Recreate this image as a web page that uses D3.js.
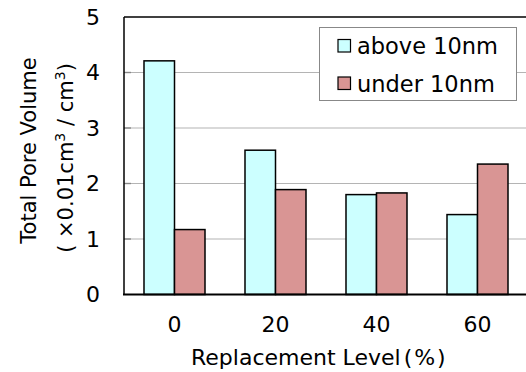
<!DOCTYPE html>
<html>
<head>
<meta charset="utf-8">
<script src="https://cdn.jsdelivr.net/npm/d3@7"></script>
<style>
  html, body { margin: 0; padding: 0; background: #fff; }
  svg { display: block; }
  text { font-family: "DejaVu Sans", "Noto Sans CJK JP", sans-serif; fill: #000; }
</style>
</head>
<body>
<div id="chart"></div>
<script>
// Replacement level categories (%)
const categories = ["0", "20", "40", "60"];
// Series names
const seriesNames = ["above 10nm", "under 10nm"];
// Total pore volume (×0.01 cm³/cm³)
const above10nm = [4.21, 2.60, 1.80, 1.44];
const under10nm = [1.17, 1.89, 1.83, 2.35];
const yTicks = [0, 1, 2, 3, 4, 5];
const colors = ["#ccffff", "#d99594"];

const W = 526, H = 372;
const plot = { left: 124, right: 528, top: 17, bottom: 294.5 };

const svg = d3.select("#chart").append("svg")
  .attr("width", W).attr("height", H);

const x0 = d3.scaleBand().domain(categories).range([plot.left, plot.right]).padding(0);
const x1 = d3.scaleBand().domain(seriesNames)
  .range([x0.bandwidth() * 0.198, x0.bandwidth() * 0.802]).padding(0);
const y = d3.scaleLinear().domain([0, 5]).range([plot.bottom, plot.top]);

const rows = categories.map((c, i) => ({ cat: c, values: [above10nm[i], under10nm[i]] }));

// gridlines
svg.append("g").selectAll("line").data(yTicks.filter(t => t > 0 && t < 5)).join("line")
  .attr("x1", plot.left).attr("x2", plot.right)
  .attr("y1", d => y(d)).attr("y2", d => y(d))
  .attr("stroke", "#b4b4b4").attr("stroke-width", 1.2);

// inner tick marks
svg.append("g").selectAll("line").data(yTicks.filter(t => t > 0 && t < 5)).join("line")
  .attr("x1", plot.left).attr("x2", plot.left + 7)
  .attr("y1", d => y(d)).attr("y2", d => y(d))
  .attr("stroke", "#888").attr("stroke-width", 1.4);

// bars
const groups = svg.append("g").selectAll("g").data(rows).join("g")
  .attr("transform", d => `translate(${x0(d.cat)},0)`);
groups.selectAll("rect").data(d => d.values.map((v, k) => ({ key: seriesNames[k], v, k }))).join("rect")
  .attr("x", d => x1(d.key))
  .attr("width", x1.bandwidth())
  .attr("y", d => y(d.v))
  .attr("height", d => y(0) - y(d.v))
  .attr("fill", d => colors[d.k])
  .attr("stroke", "#000").attr("stroke-width", 1.5);

// frame: top and left
svg.append("line").attr("x1", plot.left).attr("x2", plot.right)
  .attr("y1", plot.top).attr("y2", plot.top).attr("stroke", "#000").attr("stroke-width", 1.3);
svg.append("line").attr("x1", plot.left).attr("x2", plot.left)
  .attr("y1", plot.top).attr("y2", plot.bottom).attr("stroke", "#000").attr("stroke-width", 1.5);
// baseline
svg.append("line").attr("x1", plot.left - 1).attr("x2", plot.right)
  .attr("y1", y(0)).attr("y2", y(0)).attr("stroke", "#000").attr("stroke-width", 2.2);

// y tick labels
const yAxis = d3.axisLeft(y).tickValues(yTicks).tickFormat(d3.format("d")).tickSize(0).tickPadding(24);
const gy = svg.append("g").attr("transform", `translate(${plot.left},0)`).call(yAxis);
gy.select(".domain").remove();
gy.selectAll("text").attr("font-size", 22).attr("font-family", "DejaVu Sans");

// x tick labels
const xAxis = d3.axisBottom(x0).tickSize(0).tickPadding(22);
const gx = svg.append("g").attr("transform", `translate(0,${plot.bottom})`).call(xAxis);
gx.select(".domain").remove();
gx.selectAll("text").attr("font-size", 22).attr("font-family", "DejaVu Sans");

// x title
const xt = svg.append("text").attr("x", 191).attr("y", 365).attr("font-size", 22);
xt.append("tspan").text("Replacement Level");
xt.append("tspan").attr("dx", 3).attr("letter-spacing", 2).text("(%)");

// y title, two lines
const yt = svg.append("text").attr("transform", "translate(36,150.5) rotate(-90)")
  .attr("text-anchor", "middle").attr("font-size", 21);
yt.append("tspan").attr("x", 0).attr("y", 0).text("Total Pore Volume");
const l2 = svg.append("text").attr("transform", "translate(73,158) rotate(-90)")
  .attr("text-anchor", "middle").attr("font-size", 21);
l2.append("tspan").text("( ×0.01cm");
l2.append("tspan").attr("baseline-shift", "super").attr("font-size", 14).text("3");
l2.append("tspan").text(" / cm");
l2.append("tspan").attr("baseline-shift", "super").attr("font-size", 14).text("3");
l2.append("tspan").text(")");

// legend
const lg = svg.append("g");
lg.append("rect").attr("x", 319.5).attr("y", 27.5).attr("width", 197).attr("height", 73)
  .attr("fill", "#fff").attr("stroke", "#888").attr("stroke-width", 1);
seriesNames.forEach((name, k) => {
  const cy = 46 + k * 37.5;
  lg.append("rect").attr("x", 338).attr("y", cy - 6.5).attr("width", 12.5).attr("height", 12.5)
    .attr("fill", colors[k]).attr("stroke", "#000").attr("stroke-width", 1.2);
  lg.append("text").attr("x", 357).attr("y", cy).attr("dy", "0.36em").attr("font-size", 22.5)
    .text(name);
});
</script>
</body>
</html>
